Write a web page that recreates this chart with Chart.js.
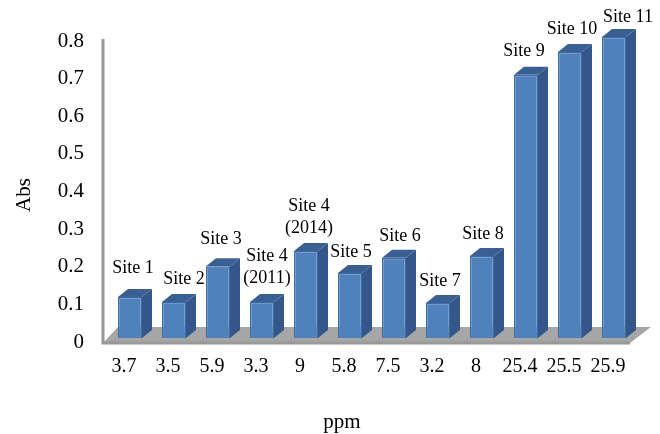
<!DOCTYPE html>
<html>
<head>
<meta charset="utf-8">
<style>
  html, body { margin: 0; padding: 0; background: #ffffff; }
  #wrap { width: 660px; height: 434px; }
</style>
<script src="https://cdn.jsdelivr.net/npm/chart.js@4/dist/chart.umd.min.js"></script>
</head>
<body>
<div id="wrap"><canvas id="chart" width="660" height="434"></canvas></div>
<script>
const ppmLabels = ['3.7', '3.5', '5.9', '3.3', '9', '5.8', '7.5', '3.2', '8', '25.4', '25.5', '25.9'];
const absValues = [0.109, 0.096, 0.191, 0.096, 0.231, 0.173, 0.213, 0.093, 0.218, 0.7, 0.76, 0.8];
const yTicks = [0, 0.1, 0.2, 0.3, 0.4, 0.5, 0.6, 0.7, 0.8];
const siteNames = [['Site 1'], ['Site 2'], ['Site 3'], ['Site 4', '(2011)'], ['Site 4', '(2014)'], ['Site 5'],
                   ['Site 6'], ['Site 7'], ['Site 8'], ['Site 9'], ['Site 10'], ['Site 11']];
// Shift of each site caption from its bar's top centre: [dx, dy of the last line's middle]
const captionShift = [[3, -29], [10, -23], [3, -27], [5, -24], [3, -23], [1, -21], [6, -22], [2, -22], [1, -22], [-2, -23], [2, -23], [14, -20]];

const DEPTH_X = 10, DEPTH_Y = 8;           // bar extrusion
const FLOOR_X = 15, FLOOR_Y = 16;          // floor slant
const FONT = '"Liberation Serif", serif';

const threeD = {
  id: 'threeD',
  beforeDatasetsDraw(chart) {
    const { ctx, chartArea: a } = chart;
    const axisX = a.left - 5, axisY = a.bottom + 5, farRight = a.right + 15, nearRight = a.right - 6;
    ctx.save();
    // Floor
    ctx.fillStyle = '#a6a6a6';
    ctx.beginPath();
    ctx.moveTo(axisX, axisY);
    ctx.lineTo(axisX + FLOOR_X, axisY - FLOOR_Y);
    ctx.lineTo(farRight, axisY - FLOOR_Y);
    ctx.lineTo(nearRight, axisY);
    ctx.closePath();
    ctx.fill();
    // Axis lines
    ctx.strokeStyle = '#999999';
    ctx.lineWidth = 3;
    ctx.beginPath();
    ctx.moveTo(axisX, a.top + 2);
    ctx.lineTo(axisX, axisY);
    ctx.lineTo(nearRight, axisY);
    ctx.stroke();
    // Side and top faces of each bar
    chart.getDatasetMeta(0).data.forEach(bar => {
      const l = bar.x - bar.width / 2, r = bar.x + bar.width / 2, t = bar.y, b = bar.base;
      ctx.fillStyle = '#34568a';
      ctx.beginPath();
      ctx.moveTo(r, t);
      ctx.lineTo(r + DEPTH_X, t - DEPTH_Y);
      ctx.lineTo(r + DEPTH_X, b - DEPTH_Y);
      ctx.lineTo(r, b);
      ctx.closePath();
      ctx.fill();
      ctx.fillStyle = '#3a6093';
      ctx.beginPath();
      ctx.moveTo(l, t);
      ctx.lineTo(l + DEPTH_X, t - DEPTH_Y);
      ctx.lineTo(r + DEPTH_X, t - DEPTH_Y);
      ctx.lineTo(r, t);
      ctx.closePath();
      ctx.fill();
    });
    ctx.restore();
  },
  afterDatasetsDraw(chart) {
    const { ctx, chartArea: a } = chart;
    ctx.save();
    ctx.fillStyle = '#000000';
    ctx.textAlign = 'center';
    ctx.textBaseline = 'middle';
    // Site captions above the bars
    ctx.font = '18px ' + FONT;
    chart.getDatasetMeta(0).data.forEach((bar, i) => {
      const lines = siteNames[i];
      const [dx, dy] = captionShift[i];
      lines.forEach((line, k) => {
        ctx.fillText(line, bar.x + dx, bar.y + dy - (lines.length - 1 - k) * 22);
      });
    });
    // Axis titles
    ctx.font = '21px ' + FONT;
    ctx.fillText('ppm', a.left + 234, a.bottom + 84);
    ctx.translate(a.left - 84, a.top + 158);
    ctx.rotate(-Math.PI / 2);
    ctx.fillText('Abs', 0, 0);
    ctx.restore();
  }
};

new Chart(document.getElementById('chart'), {
  type: 'bar',
  data: {
    labels: ppmLabels,
    datasets: [{
      data: absValues,
      backgroundColor: '#4f81bd',
      borderColor: '#3d6ca6',
      borderWidth: 1.5,
      barPercentage: 24 / 44,
      categoryPercentage: 1
    }]
  },
  options: {
    responsive: false,
    animation: false,
    layout: { padding: { top: 37, right: 24, left: 0, bottom: 0 } },
    plugins: { legend: { display: false }, tooltip: { enabled: false } },
    scales: {
      x: {
        afterFit(s) { s.height = 96; },
        grid: { display: false },
        border: { display: false },
        ticks: { color: '#000', font: { family: FONT, size: 20 }, padding: 9, labelOffset: -6, maxRotation: 0, autoSkip: false }
      },
      y: {
        min: 0,
        max: 0.8,
        afterFit(s) { s.width = 108; },
        afterBuildTicks(s) { s.ticks = yTicks.map(v => ({ value: v })); },
        grid: { display: false },
        border: { display: false },
        ticks: {
          color: '#000',
          font: { family: FONT, size: 21 },
          padding: 16,
          labelOffset: 4,
          callback: v => String(v)
        }
      }
    }
  },
  plugins: [threeD]
});
</script>
</body>
</html>
